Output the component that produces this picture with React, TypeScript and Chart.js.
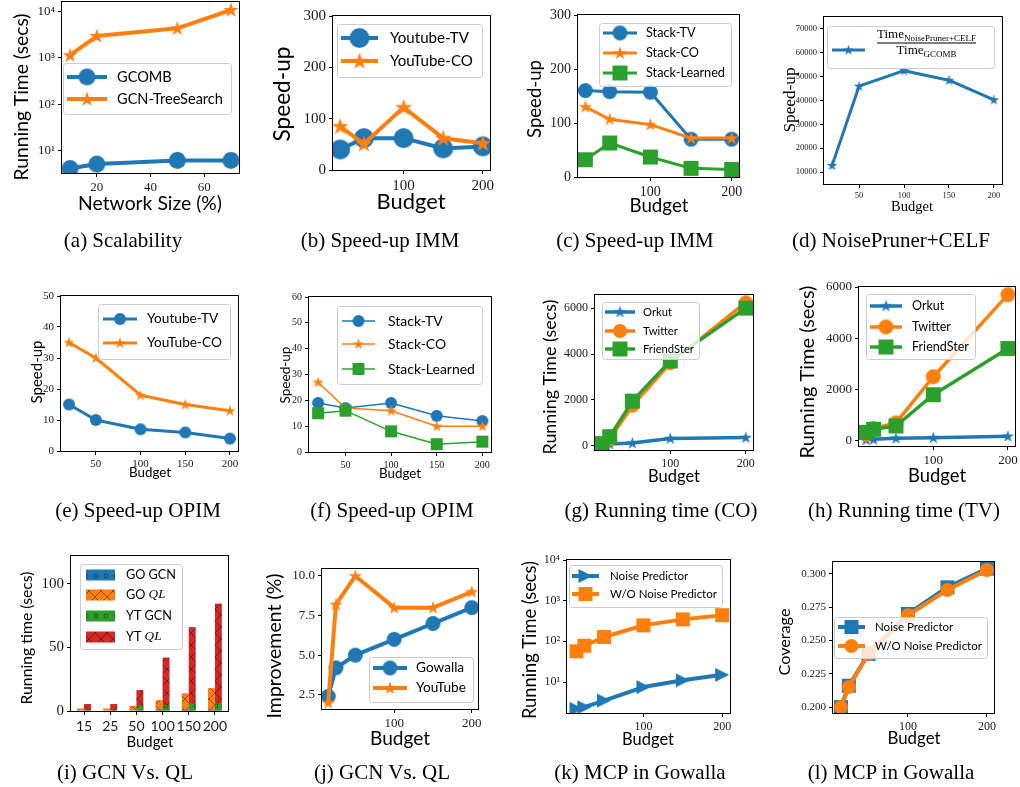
import React, { useEffect, useRef } from 'react';
import { Chart, registerables } from 'chart.js';

Chart.register(...registerables);

const BLUE = '#1f77b4';
const ORANGE = '#ff7f0e';
const GREEN = '#2ca02c';
const RED = '#d62728';
const SANS = 'Lato, "Noto Sans", "DejaVu Sans", sans-serif';
const SERIF = '"Liberation Serif", "DejaVu Serif", serif';
Chart.defaults.font.family = SANS;

// ---------------- data ----------------
// (a) Scalability
const scalabilityNetworkSize = [10, 20, 50, 70];
const scalabilityGCOMB = [4, 5, 6, 6];
const scalabilityGCNTreeSearch = [1150, 3000, 4400, 11000];
const scalabilityXTicks = [20, 40, 60];
const logTicks = [10, 100, 1000, 10000];
const logTickLabels = ['10¹', '10²', '10³', '10⁴'];

// (b), (c) Speed-up IMM
const budgetIMM = [20, 50, 100, 150, 200];
const immYoutubeTV = [40, 62, 62, 42, 46];
const immYouTubeCO = [85, 51, 122, 62, 52];
const immStackTV = [160, 158, 157, 70, 70];
const immStackCO = [130, 107, 97, 72, 72];
const immStackLearned = [32, 63, 37, 16, 14];
const speedupTicks300 = [0, 100, 200, 300];

// (d) NoisePruner+CELF
const budgetNP = [20, 50, 100, 150, 200];
const noisePrunerSpeedup = [12800, 46000, 52500, 48500, 40300];
const npYTicks = [10000, 20000, 30000, 40000, 50000, 60000, 70000];

// (e), (f) Speed-up OPIM
const budgetOPIM = [20, 50, 100, 150, 200];
const opimYoutubeTV = [15, 10, 7, 6, 4];
const opimYouTubeCO = [35, 30, 18, 15, 13];
const opimStackTV = [19, 17, 19, 14, 12];
const opimStackCO = [27, 17, 16, 10, 10];
const opimStackLearned = [15, 16, 8, 3, 4];
const opimYTicks50 = [0, 10, 20, 30, 40, 50];
const opimYTicks60 = [0, 10, 20, 30, 40, 50, 60];

// (g), (h) Running time
const budgetRT = [10, 20, 50, 100, 200];
const coOrkut = [50, 80, 120, 320, 360];
const coTwitter = [100, 300, 1750, 3600, 6250];
const coFriendSter = [100, 400, 1950, 3700, 6000];
const tvOrkut = [40, 60, 100, 120, 180];
const tvTwitter = [250, 480, 700, 2500, 5700];
const tvFriendSter = [330, 450, 580, 1800, 3600];
const rtYTicks = [0, 2000, 4000, 6000];

// (i) GCN vs QL running time
const qlBudgetLabels = ['15', '25', '50', '100', '150', '200'];
const goGCN = [0.3, 0.3, 0.5, 1, 1, 1];
const goQL = [2, 2, 4, 8.5, 14, 18];
const ytGCN = [1, 1, 4, 4.5, 6, 6];
const ytQL = [5.5, 5.5, 16.5, 42, 66, 84.5];
const qlYTicks = [0, 50, 100];

// (j) Improvement
const improvementBudget = [15, 25, 50, 100, 150, 200];
const improvementGowalla = [2.4, 4.2, 5.0, 6.0, 7.0, 8.0];
const improvementYouTube = [2.0, 8.2, 10.0, 8.0, 8.0, 9.0];
const improvementYTicks = [2.5, 5.0, 7.5, 10.0];
const improvementYTickLabels = ['2.5', '5.0', '7.5', '10.0'];

// (k), (l) MCP in Gowalla
const mcpBudget = [15, 25, 50, 100, 150, 200];
const mcpTimeNoisePredictor = [2.2, 2.4, 3.5, 7.5, 11, 15];
const mcpTimeWithout = [57, 78, 128, 247, 347, 440];
const mcpCoverageNoisePredictor = [0.2, 0.216, 0.24, 0.27, 0.29, 0.304];
const mcpCoverageWithout = [0.2, 0.215, 0.24, 0.269, 0.288, 0.303];
const coverageTicks = [0.2, 0.225, 0.25, 0.275, 0.3];
const coverageTickLabels = ['0.200', '0.225', '0.250', '0.275', '0.300'];

const budgetTicks100 = [100, 200];
const budgetTicks50 = [50, 100, 150, 200];

// ---------------- types ----------------
type Shape = 'circle' | 'star' | 'square' | 'triR';
type Seg = { t: string; math?: boolean };
interface SeriesDef {
  label: string; xs?: number[]; ys: number[]; color: string;
  shape?: Shape; size?: number; lw?: number; hatch?: 'x' | 'o'; stack?: string; order?: number; segs?: Seg[];
}
interface AxisDef { type: string; min?: number; max?: number; ticks?: number[]; labels?: string[]; family: string; size: number }
interface TitleDef { text: string; cx: number; cy: number; len: number }
interface LegendDef {
  box: number[]; rows: number[]; hx: number[]; tx?: number; fitW?: number; fitIdx?: number; ph?: number;
  frac?: { x: number; numBase: number; barY: number; denBase: number; main: number; sub: number; drop: number; num: string; den: string };
}
interface PanelDef {
  key: string; box: { l: number; t: number; r: number; b: number }; type: 'line' | 'bar';
  labels?: string[]; series: SeriesDef[]; x: AxisDef; y: AxisDef; xTitle: TitleDef; yTitle: TitleDef;
  titleFamily?: string; legend: LegendDef;
}

const ML = 90, MT = 25, MR = 25, MB = 60;

function S(label: string, xs: number[], ys: number[], color: string, shape: Shape, size: number, lw: number): SeriesDef {
  return { label, xs, ys, color, shape, size, lw };
}

const panels: PanelDef[] = [
  {
    key: 'a', box: { l: 62, t: 2, r: 239, b: 173 }, type: 'line',
    series: [
      S('GCOMB', scalabilityNetworkSize, scalabilityGCOMB, BLUE, 'circle', 17, 4),
      S('GCN-TreeSearch', scalabilityNetworkSize, scalabilityGCNTreeSearch, ORANGE, 'star', 16, 4),
    ],
    x: { type: 'linear', min: 7, max: 73, ticks: scalabilityXTicks, family: SERIF, size: 13 },
    y: { type: 'logarithmic', min: 3.2, max: 16400, ticks: logTicks, labels: logTickLabels, family: SERIF, size: 13 },
    xTitle: { text: 'Network Size (%)', cx: 150, cy: 204, len: 144 },
    yTitle: { text: 'Running Time (secs)', cx: 22, cy: 97, len: 167 },
    legend: { box: [63, 63, 231, 114], rows: [77, 99], hx: [67, 107], tx: 117, fitW: 106, fitIdx: 1 },
  },
  {
    key: 'b', box: { l: 333, t: 16, r: 490, b: 170 }, type: 'line',
    series: [
      S('Youtube-TV', budgetIMM, immYoutubeTV, BLUE, 'circle', 20, 4),
      S('YouTube-CO', budgetIMM, immYouTubeCO, ORANGE, 'star', 18, 4),
    ],
    x: { type: 'linear', min: 11, max: 209, ticks: budgetTicks100, family: SERIF, size: 15 },
    y: { type: 'linear', min: 0, max: 300, ticks: speedupTicks300, family: SERIF, size: 15 },
    xTitle: { text: 'Budget', cx: 411, cy: 202, len: 69 },
    yTitle: { text: 'Speed-up', cx: 283, cy: 94, len: 95 },
    legend: { box: [337, 24, 482, 77], rows: [38, 61], hx: [341, 378], tx: 390, fitW: 83, fitIdx: 1 },
  },
  {
    key: 'c', box: { l: 578, t: 15, r: 739, b: 177 }, type: 'line',
    series: [
      S('Stack-TV', budgetIMM, immStackTV, BLUE, 'circle', 15, 3),
      S('Stack-CO', budgetIMM, immStackCO, ORANGE, 'star', 14, 3),
      S('Stack-Learned', budgetIMM, immStackLearned, GREEN, 'square', 15, 3),
    ],
    x: { type: 'linear', min: 11, max: 209, ticks: budgetTicks100, family: SERIF, size: 14 },
    y: { type: 'linear', min: 0, max: 300, ticks: speedupTicks300, family: SERIF, size: 14 },
    xTitle: { text: 'Budget', cx: 659, cy: 206, len: 59 },
    yTitle: { text: 'Speed-up', cx: 535, cy: 99, len: 78 },
    legend: { box: [599, 23, 731, 86], rows: [33, 53, 73], hx: [603, 637], tx: 646, fitW: 79, fitIdx: 2 },
  },
  {
    key: 'd', box: { l: 824, t: 17, r: 1002, b: 184 }, type: 'line',
    series: [S('NoisePruner+CELF / GCOMB', budgetNP, noisePrunerSpeedup, BLUE, 'star', 11, 3)],
    x: { type: 'linear', min: 11, max: 209, ticks: budgetTicks50, family: SERIF, size: 8.5 },
    y: { type: 'linear', min: 5000, max: 75000, ticks: npYTicks, family: SERIF, size: 8.5 },
    xTitle: { text: 'Budget', cx: 912, cy: 207, len: 42 },
    yTitle: { text: 'Speed-up', cx: 790, cy: 100, len: 65 },
    titleFamily: SERIF,
    legend: {
      box: [827, 26, 994, 68], rows: [50], hx: [832, 865],
      frac: { x: 877, numBase: 38, barY: 43, denBase: 54, main: 13, sub: 9, drop: 3, num: 'NoisePruner+CELF', den: 'GCOMB' },
    },
  },
  {
    key: 'e', box: { l: 61, t: 296, r: 238, b: 451 }, type: 'line',
    series: [
      S('Youtube-TV', budgetOPIM, opimYoutubeTV, BLUE, 'circle', 12, 3),
      S('YouTube-CO', budgetOPIM, opimYouTubeCO, ORANGE, 'star', 12, 3),
    ],
    x: { type: 'linear', min: 11, max: 209, ticks: budgetTicks50, family: SERIF, size: 11 },
    y: { type: 'linear', min: 0, max: 50, ticks: opimYTicks50, family: SERIF, size: 11 },
    xTitle: { text: 'Budget', cx: 150, cy: 473, len: 42 },
    yTitle: { text: 'Speed-up', cx: 37, cy: 372, len: 63 },
    legend: { box: [98, 304, 230, 359], rows: [319, 343], hx: [103, 137], tx: 147, fitW: 75, fitIdx: 1 },
  },
  {
    key: 'f', box: { l: 309, t: 297, r: 491, b: 452 }, type: 'line',
    series: [
      S('Stack-TV', budgetOPIM, opimStackTV, BLUE, 'circle', 12, 1.5),
      S('Stack-CO', budgetOPIM, opimStackCO, ORANGE, 'star', 12, 1.5),
      S('Stack-Learned', budgetOPIM, opimStackLearned, GREEN, 'square', 12, 1.5),
    ],
    x: { type: 'linear', min: 10, max: 209.5, ticks: budgetTicks50, family: SERIF, size: 10 },
    y: { type: 'linear', min: 0, max: 60, ticks: opimYTicks60, family: SERIF, size: 10 },
    xTitle: { text: 'Budget', cx: 400, cy: 474, len: 42 },
    yTitle: { text: 'Speed-up', cx: 286, cy: 375, len: 57 },
    legend: { box: [337, 306, 482, 384], rows: [321, 344, 369], hx: [342, 375], tx: 388, fitW: 87, fitIdx: 2 },
  },
  {
    key: 'g', box: { l: 595, t: 295, r: 753, b: 450 }, type: 'line',
    series: [
      S('Orkut', budgetRT, coOrkut, BLUE, 'star', 13, 3.5),
      S('Twitter', budgetRT, coTwitter, ORANGE, 'circle', 14, 3.5),
      S('FriendSter', budgetRT, coFriendSter, GREEN, 'square', 15, 3.5),
    ],
    x: { type: 'linear', min: 0.5, max: 209.5, ticks: budgetTicks100, family: SERIF, size: 12 },
    y: { type: 'linear', min: -180, max: 6570, ticks: rtYTicks, family: SERIF, size: 12 },
    xTitle: { text: 'Budget', cx: 674, cy: 477, len: 52 },
    yTitle: { text: 'Running Time (secs)', cx: 550, cy: 377, len: 155 },
    legend: { box: [602, 302, 699, 359], rows: [312, 331, 349], hx: [605, 635], tx: 643, fitW: 51, fitIdx: 2 },
  },
  {
    key: 'h', box: { l: 859, t: 287, r: 1015, b: 446 }, type: 'line',
    series: [
      S('Orkut', budgetRT, tvOrkut, BLUE, 'star', 13, 3.5),
      S('Twitter', budgetRT, tvTwitter, ORANGE, 'circle', 15, 3.5),
      S('FriendSter', budgetRT, tvFriendSter, GREEN, 'square', 15, 3.5),
    ],
    x: { type: 'linear', min: 0.5, max: 209.5, ticks: budgetTicks100, family: SERIF, size: 13 },
    y: { type: 'linear', min: -200, max: 6000, ticks: rtYTicks, family: SERIF, size: 13 },
    xTitle: { text: 'Budget', cx: 937, cy: 476, len: 58 },
    yTitle: { text: 'Running Time (secs)', cx: 808, cy: 372, len: 173 },
    legend: { box: [866, 294, 975, 359], rows: [306, 327, 347], hx: [870, 902], tx: 912, fitW: 57, fitIdx: 2 },
  },
  {
    key: 'i', box: { l: 71, t: 556, r: 228, b: 711 }, type: 'bar', labels: qlBudgetLabels,
    series: [
      { label: 'GO GCN', ys: goGCN, color: BLUE, hatch: 'o', stack: 'GO', order: 0 },
      { label: 'GO QL', ys: goQL, color: ORANGE, hatch: 'x', stack: 'GO', order: 1, segs: [{ t: 'GO ' }, { t: 'QL', math: true }] },
      { label: 'YT GCN', ys: ytGCN, color: GREEN, hatch: 'o', stack: 'YT', order: 0 },
      { label: 'YT QL', ys: ytQL, color: RED, hatch: 'x', stack: 'YT', order: 1, segs: [{ t: 'YT ' }, { t: 'QL', math: true }] },
    ],
    x: { type: 'category', family: SANS, size: 14 },
    y: { type: 'linear', min: 0, max: 122, ticks: qlYTicks, family: SERIF, size: 15 },
    xTitle: { text: 'Budget', cx: 150, cy: 742, len: 47 },
    yTitle: { text: 'Running time (secs)', cx: 27, cy: 638, len: 133 },
    legend: { box: [80, 564, 182, 649], rows: [575, 595, 616, 637], hx: [86, 115], ph: 11, tx: 126, fitW: 50, fitIdx: 0 },
  },
  {
    key: 'j', box: { l: 322, t: 569, r: 478, b: 709 }, type: 'line',
    series: [
      S('Gowalla', improvementBudget, improvementGowalla, BLUE, 'circle', 15, 4),
      S('YouTube', improvementBudget, improvementYouTube, ORANGE, 'star', 14, 4),
    ],
    x: { type: 'linear', min: 7, max: 208, ticks: budgetTicks100, family: SERIF, size: 13 },
    y: { type: 'linear', min: 1.6, max: 10.44, ticks: improvementYTicks, labels: improvementYTickLabels, family: SERIF, size: 13 },
    xTitle: { text: 'Budget', cx: 400, cy: 739, len: 60 },
    yTitle: { text: 'Improvement (%)', cx: 275, cy: 646, len: 145 },
    legend: { box: [369, 657, 473, 702], rows: [668, 688], hx: [373, 407], tx: 416, fitW: 50, fitIdx: 1 },
  },
  {
    key: 'k', box: { l: 567, t: 560, r: 730, b: 713 }, type: 'line',
    series: [
      S('Noise Predictor', mcpBudget, mcpTimeNoisePredictor, BLUE, 'triR', 14, 4),
      S('W/O Noise Predictor', mcpBudget, mcpTimeWithout, ORANGE, 'square', 14, 4),
    ],
    x: { type: 'linear', min: 3, max: 210, ticks: budgetTicks100, family: SERIF, size: 12 },
    y: { type: 'logarithmic', min: 1.73, max: 10000, ticks: logTicks, labels: logTickLabels, family: SERIF, size: 12 },
    xTitle: { text: 'Budget', cx: 648, cy: 740, len: 52 },
    yTitle: { text: 'Running Time (secs)', cx: 530, cy: 640, len: 158 },
    legend: { box: [569, 565, 722, 607], rows: [576, 594], hx: [572, 599], tx: 610, fitW: 107, fitIdx: 1 },
  },
  {
    key: 'l', box: { l: 833, t: 562, r: 994, b: 713 }, type: 'line',
    series: [
      S('Noise Predictor', mcpBudget, mcpCoverageNoisePredictor, BLUE, 'square', 14, 4),
      S('W/O Noise Predictor', mcpBudget, mcpCoverageWithout, ORANGE, 'circle', 14, 4),
    ],
    x: { type: 'linear', min: 5, max: 209, ticks: budgetTicks100, family: SERIF, size: 12 },
    y: { type: 'linear', min: 0.1955, max: 0.309, ticks: coverageTicks, labels: coverageTickLabels, family: SERIF, size: 11 },
    xTitle: { text: 'Budget', cx: 914, cy: 739, len: 53 },
    yTitle: { text: 'Coverage', cx: 785, cy: 642, len: 67 },
    legend: { box: [834, 617, 987, 658], rows: [627, 646], hx: [838, 865], tx: 875, fitW: 107, fitIdx: 1 },
  },
];

const captions = [
  { t: '(a) Scalability', cx: 123, cy: 240 },
  { t: '(b) Speed-up IMM', cx: 380, cy: 240 },
  { t: '(c) Speed-up IMM', cx: 635, cy: 240 },
  { t: '(d) NoisePruner+CELF', cx: 891, cy: 240 },
  { t: '(e) Speed-up OPIM', cx: 138, cy: 510 },
  { t: '(f) Speed-up OPIM', cx: 392, cy: 510 },
  { t: '(g) Running time (CO)', cx: 661, cy: 510 },
  { t: '(h) Running time (TV)', cx: 904, cy: 510 },
  { t: '(i) GCN Vs. QL', cx: 125, cy: 772 },
  { t: '(j) GCN Vs. QL', cx: 382, cy: 772 },
  { t: '(k) MCP in Gowalla', cx: 640, cy: 772 },
  { t: '(l) MCP in Gowalla', cx: 891, cy: 772 },
];

// ---------------- drawing helpers ----------------
function makeMarker(shape: Shape, size: number, color: string): HTMLCanvasElement {
  const dim = Math.ceil(size) + 4;
  const c = document.createElement('canvas');
  c.width = dim; c.height = dim;
  const g = c.getContext('2d')!;
  const cx = dim / 2, cy = dim / 2, r = size / 2;
  g.fillStyle = color;
  g.beginPath();
  if (shape === 'circle') g.arc(cx, cy, r, 0, Math.PI * 2);
  else if (shape === 'square') g.rect(cx - r, cy - r, 2 * r, 2 * r);
  else if (shape === 'triR') { g.moveTo(cx + r, cy); g.lineTo(cx - r, cy - r); g.lineTo(cx - r, cy + r); }
  else {
    for (let i = 0; i < 10; i++) {
      const ang = -Math.PI / 2 + (i * Math.PI) / 5;
      const rr = i % 2 ? r * 0.382 : r;
      const px = cx + rr * Math.cos(ang), py = cy + rr * Math.sin(ang) + r * 0.05;
      if (i === 0) g.moveTo(px, py); else g.lineTo(px, py);
    }
  }
  g.closePath();
  g.fill();
  return c;
}

function makeHatch(ctx: CanvasRenderingContext2D, color: string, kind: 'x' | 'o'): CanvasPattern {
  const s = kind === 'x' ? 12 : 10;
  const c = document.createElement('canvas');
  c.width = s; c.height = s;
  const g = c.getContext('2d')!;
  g.fillStyle = color; g.fillRect(0, 0, s, s);
  g.strokeStyle = 'rgba(0,0,0,0.4)'; g.lineWidth = 1;
  g.beginPath();
  if (kind === 'x') { g.moveTo(0, 0); g.lineTo(s, s); g.moveTo(s, 0); g.lineTo(0, s); }
  else g.arc(s / 2, s / 2, 2, 0, Math.PI * 2);
  g.stroke();
  return ctx.createPattern(c, 'repeat')!;
}

function segFont(seg: Seg, fs: number) {
  return seg.math ? `italic ${fs * 1.05}px ${SERIF}` : `${fs}px ${SANS}`;
}
function labelSegs(s: SeriesDef): Seg[] { return s.segs || [{ t: s.label }]; }
function segsWidth(ctx: CanvasRenderingContext2D, segs: Seg[], fs: number) {
  let w = 0;
  for (const sg of segs) { ctx.font = segFont(sg, fs); w += ctx.measureText(sg.t).width; }
  return w;
}
function drawSegs(ctx: CanvasRenderingContext2D, segs: Seg[], x: number, y: number, fs: number) {
  ctx.textAlign = 'left'; ctx.textBaseline = 'middle'; ctx.fillStyle = '#000';
  let cx = x;
  for (const sg of segs) { ctx.font = segFont(sg, fs); ctx.fillText(sg.t, cx, y); cx += ctx.measureText(sg.t).width; }
}
function roundRectPath(ctx: CanvasRenderingContext2D, x: number, y: number, w: number, h: number, r: number) {
  ctx.beginPath();
  ctx.moveTo(x + r, y); ctx.lineTo(x + w - r, y); ctx.arcTo(x + w, y, x + w, y + r, r);
  ctx.lineTo(x + w, y + h - r); ctx.arcTo(x + w, y + h, x + w - r, y + h, r);
  ctx.lineTo(x + r, y + h); ctx.arcTo(x, y + h, x, y + h - r, r);
  ctx.lineTo(x, y + r); ctx.arcTo(x, y, x + r, y, r);
  ctx.closePath();
}
function drawTitle(ctx: CanvasRenderingContext2D, t: TitleDef, ox: number, oy: number, family: string, rotate: boolean) {
  ctx.font = `20px ${family}`;
  const w = ctx.measureText(t.text).width;
  const fs = (20 * t.len) / w;
  ctx.save();
  ctx.font = `${fs}px ${family}`;
  ctx.fillStyle = '#000'; ctx.textAlign = 'center'; ctx.textBaseline = 'middle';
  ctx.translate(t.cx - ox, t.cy - oy);
  if (rotate) ctx.rotate(-Math.PI / 2);
  ctx.fillText(t.text, 0, 0);
  ctx.restore();
}

type Entry = { s: SeriesDef; marker: HTMLCanvasElement | null; pattern: CanvasPattern | null };

function decorPlugin(spec: PanelDef, entries: Entry[], ox: number, oy: number) {
  return {
    id: 'decor_' + spec.key,
    afterDraw(chart: any) {
      const ctx: CanvasRenderingContext2D = chart.ctx;
      const a = chart.chartArea;
      ctx.save();
      // frame
      ctx.strokeStyle = '#000'; ctx.lineWidth = 1;
      ctx.strokeRect(a.left - 0.5, a.top - 0.5, a.right - a.left + 1, a.bottom - a.top + 1);
      // legend
      const L = spec.legend;
      const [bx1, by1, bx2, by2] = L.box;
      roundRectPath(ctx, bx1 - ox + 0.5, by1 - oy + 0.5, bx2 - bx1, by2 - by1, 3);
      ctx.fillStyle = 'rgba(255,255,255,0.8)'; ctx.fill();
      ctx.strokeStyle = '#cccccc'; ctx.lineWidth = 1; ctx.stroke();
      let fs = 14;
      if (L.fitW && L.fitIdx !== undefined) {
        const w20 = segsWidth(ctx, labelSegs(entries[L.fitIdx].s), 20);
        fs = (20 * L.fitW) / w20;
      }
      entries.forEach(({ s, marker, pattern }, i) => {
        const y = L.rows[i] - oy;
        const x1 = L.hx[0] - ox, x2 = L.hx[1] - ox;
        if (pattern) {
          const ph = L.ph || 10;
          ctx.fillStyle = pattern; ctx.fillRect(x1, y - ph / 2, x2 - x1, ph);
        } else {
          ctx.strokeStyle = s.color; ctx.lineWidth = s.lw || 2; ctx.lineCap = 'butt';
          ctx.beginPath(); ctx.moveTo(x1, y); ctx.lineTo(x2, y); ctx.stroke();
          if (marker) ctx.drawImage(marker, (x1 + x2) / 2 - marker.width / 2, y - marker.height / 2);
        }
        if (!L.frac && L.tx !== undefined) drawSegs(ctx, labelSegs(s), L.tx - ox, y, fs);
      });
      if (L.frac) {
        const f = L.frac;
        const x = f.x - ox;
        const mainF = `${f.main}px ${SERIF}`, subF = `${f.sub}px ${SERIF}`;
        ctx.fillStyle = '#000'; ctx.textAlign = 'left'; ctx.textBaseline = 'alphabetic';
        ctx.font = mainF; const tw = ctx.measureText('Time').width;
        ctx.font = subF; const nw = ctx.measureText(f.num).width; const dw = ctx.measureText(f.den).width;
        const numW = tw + nw, denW = tw + dw;
        const dx = x + (numW - denW) / 2;
        ctx.font = mainF;
        ctx.fillText('Time', x, f.numBase - oy);
        ctx.fillText('Time', dx, f.denBase - oy);
        ctx.font = subF;
        ctx.fillText(f.num, x + tw, f.numBase + f.drop - oy);
        ctx.fillText(f.den, dx + tw, f.denBase + f.drop - oy);
        ctx.fillRect(x, f.barY - oy - 0.5, numW, 1);
      }
      // axis titles
      const fam = spec.titleFamily || SANS;
      drawTitle(ctx, spec.xTitle, ox, oy, fam, false);
      drawTitle(ctx, spec.yTitle, ox, oy, fam, true);
      ctx.restore();
    },
  };
}

function axisOptions(a: AxisDef, isX: boolean, isBar: boolean) {
  const o: any = {
    type: a.type,
    grid: {
      display: true, drawOnChartArea: false, drawTicks: true, tickLength: 4,
      color: '#000', tickColor: '#000', lineWidth: 1, offset: false,
    },
    border: { display: false },
    ticks: {
      font: { family: a.family, size: a.size }, color: '#1a1a1a', padding: 3,
      autoSkip: false, maxRotation: 0, minRotation: 0,
    },
    afterFit: (s: any) => { if (isX) s.height = MB; else s.width = ML; },
  };
  if (a.min !== undefined) o.min = a.min;
  if (a.max !== undefined) o.max = a.max;
  if (a.ticks) {
    const tv = a.ticks;
    const tl = a.labels || a.ticks.map((v) => String(v));
    o.afterBuildTicks = (s: any) => { s.ticks = tv.map((v) => ({ value: v })); };
    o.ticks.callback = (_v: any, idx: number) => tl[idx];
  }
  if (isBar) {
    if (isX) { o.stacked = true; o.offset = true; }
    else o.stacked = false;
  }
  return o;
}

function Panel({ spec }: { spec: PanelDef }) {
  const ref = useRef<HTMLCanvasElement>(null);
  const { box } = spec;
  const ox = box.l - ML, oy = box.t - MT;
  const cw = box.r - box.l + ML + MR, ch = box.b - box.t + MT + MB;
  useEffect(() => {
    const canvas = ref.current!;
    const ctx = canvas.getContext('2d')!;
    const entries: Entry[] = spec.series.map((s) => ({
      s,
      marker: s.shape ? makeMarker(s.shape, s.size || 10, s.color) : null,
      pattern: s.hatch ? makeHatch(ctx, s.color, s.hatch) : null,
    }));
    const isBar = spec.type === 'bar';
    const datasets = entries.map(({ s, marker, pattern }, i) =>
      isBar
        ? {
            label: s.label, data: s.ys, backgroundColor: pattern, borderWidth: 0,
            stack: s.stack, order: s.order || 0, categoryPercentage: 0.53, barPercentage: 1.0,
          }
        : {
            label: s.label,
            data: (s.xs || []).map((x, k) => ({ x, y: s.ys[k] })),
            borderColor: s.color, backgroundColor: s.color, borderWidth: s.lw,
            borderJoinStyle: 'round',
            pointStyle: marker, pointRadius: (s.size || 10) / 2, pointHoverRadius: (s.size || 10) / 2,
            pointBorderWidth: 0, tension: 0, fill: false, clip: 0, order: -i,
          }
    );
    const chart = new Chart(canvas, {
      type: spec.type,
      data: { labels: spec.labels, datasets: datasets as any },
      options: {
        responsive: false, maintainAspectRatio: false, animation: false, devicePixelRatio: 1,
        events: [],
        layout: { padding: { left: 0, top: MT, right: MR, bottom: 0 } },
        plugins: { legend: { display: false }, tooltip: { enabled: false }, title: { display: false } },
        scales: { x: axisOptions(spec.x, true, isBar), y: axisOptions(spec.y, false, isBar) },
      } as any,
      plugins: [decorPlugin(spec, entries, ox, oy)],
    });
    return () => chart.destroy();
  }, []);
  return (
    <canvas
      ref={ref}
      width={cw}
      height={ch}
      style={{ position: 'absolute', left: ox, top: oy, width: cw, height: ch }}
    />
  );
}

export default function App() {
  return (
    <div style={{ position: 'absolute', left: 0, top: 0, width: 1020, height: 787, overflow: 'hidden', background: '#fff' }}>
      {panels.map((p) => (
        <Panel key={p.key} spec={p} />
      ))}
      {captions.map((c) => (
        <div
          key={c.t}
          style={{
            position: 'absolute', left: c.cx, top: c.cy, transform: 'translate(-50%, -50%)',
            fontFamily: SERIF, fontSize: 21, whiteSpace: 'nowrap', color: '#000', lineHeight: 1,
          }}
        >
          {c.t}
        </div>
      ))}
    </div>
  );
}
